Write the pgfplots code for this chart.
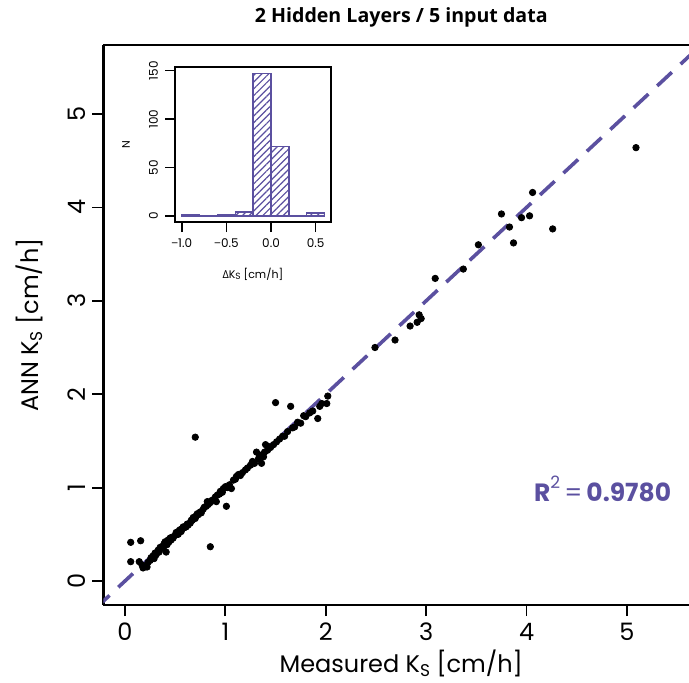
\documentclass[border=0pt]{standalone}
\usepackage{fontspec}
\setmainfont{Poppins}
\newfontfamily\titlefont{Open Sans}
\usepackage{pgfplots}
\pgfplotsset{compat=1.18}
\usetikzlibrary{patterns.meta}
\definecolor{pc}{RGB}{91,80,160}

\pgfplotstableread{
x y
0.057 0.414
0.156 0.431
0.057 0.207
0.142 0.207
0.85 0.367
0.70 1.54
0.17 0.17
0.18 0.14
0.20 0.16
0.22 0.15
0.23 0.20
0.25 0.22
0.26 0.25
0.28 0.27
0.29 0.24
0.30 0.30
0.31 0.28
0.33 0.33
0.34 0.31
0.35 0.36
0.37 0.37
0.38 0.35
0.39 0.40
0.40 0.42
0.41 0.31
0.42 0.39
0.43 0.44
0.44 0.42
0.45 0.46
0.46 0.44
0.47 0.47
0.48 0.46
0.50 0.49
0.51 0.52
0.52 0.50
0.53 0.50
0.54 0.54
0.55 0.55
0.56 0.53
0.57 0.56
0.58 0.58
0.59 0.57
0.61 0.58
0.62 0.61
0.63 0.60
0.65 0.62
0.66 0.65
0.67 0.65
0.68 0.68
0.70 0.67
0.71 0.70
0.72 0.72
0.73 0.71
0.75 0.74
0.76 0.73
0.78 0.77
0.79 0.79
0.81 0.80
0.82 0.85
0.83 0.82
0.85 0.84
0.86 0.86
0.88 0.87
0.90 0.90
0.91 0.85
0.92 0.92
0.94 0.93
0.95 0.96
0.97 0.95
0.98 0.99
1.00 1.01
1.01 0.80
1.02 1.00
1.04 1.03
1.06 0.99
1.08 1.08
1.10 1.09
1.11 1.12
1.13 1.14
1.15 1.13
1.17 1.16
1.20 1.19
1.22 1.21
1.25 1.24
1.27 1.28
1.29 1.26
1.31 1.38
1.33 1.31
1.34 1.35
1.36 1.26
1.38 1.33
1.39 1.38
1.40 1.46
1.42 1.40
1.43 1.44
1.45 1.43
1.48 1.46
1.50 1.91
1.51 1.49
1.54 1.52
1.57 1.55
1.59 1.55
1.62 1.60
1.65 1.87
1.67 1.64
1.69 1.65
1.72 1.70
1.75 1.69
1.78 1.77
1.80 1.76
1.84 1.80
1.87 1.82
1.92 1.74
1.94 1.87
1.96 1.90
2.01 1.90
2.02 1.98
2.49 2.50
2.69 2.58
2.84 2.73
2.91 2.77
2.93 2.85
2.95 2.81
3.09 3.24
3.37 3.34
3.52 3.60
3.75 3.93
3.83 3.79
3.87 3.62
3.95 3.89
4.03 3.91
4.06 4.16
4.26 3.77
5.09 4.64
}\pts

\begin{document}
\begin{tikzpicture}
\begin{axis}[
  name=main,
  scale only axis,
  width=292.75pt, height=280pt,
  xmin=-0.214, xmax=5.618, ymin=-0.257, ymax=5.739,
  axis x line=box, axis y line*=left,
  xtick pos=left, ytick pos=left,
  axis line style={line width=1.4pt, black},
  tick align=outside,
  major tick length=5.5pt,
  every tick/.style={black, line width=0.9pt},
  xtick={0,...,5}, ytick={0,...,5},
  tick label style={font=\fontsize{12}{12}\selectfont},
  /pgf/number format/assume math mode=true,
  yticklabel style={rotate=90, anchor=south},
  xlabel={Measured K\raisebox{-0.3ex}{\fontsize{8.5}{8.5}\selectfont S} [cm/h]},
  ylabel={ANN K\raisebox{-0.3ex}{\fontsize{8.5}{8.5}\selectfont S} [cm/h]},
  xlabel style={font=\fontsize{12}{12}\selectfont, at={(axis description cs:0.5,0)}, anchor=center, yshift=-29pt, xshift=2.5pt},
  ylabel style={font=\fontsize{12}{12}\selectfont, at={(axis description cs:0,0.5)}, anchor=center, yshift=37pt},
  title={2 Hidden Layers / 5 input data},
  title style={font=\titlefont\bfseries\fontsize{9.8}{9.8}\selectfont, at={(axis description cs:0.5,1)}, anchor=center, yshift=8pt, xshift=2.5pt},
]
\addplot[only marks, mark=*, mark size=1.6pt, mark options={fill=black, draw=black}] table {\pts};
\addplot[pc, line width=1.8pt, dash pattern=on 10pt off 6pt] coordinates {(-0.3,-0.3) (6,6)};
\node[anchor=east, text=pc, font=\fontsize{12.5}{12.5}\selectfont] at (axis cs:5.51,0.985)
  {\textbf{R}\raisebox{0.55em}{\fontsize{8.5}{8.5}\selectfont 2}\,=\,\textbf{0.9780}};
\end{axis}

\begin{axis}[
  at={(main.south west)}, anchor=south west, xshift=35.75pt, yshift=191.5pt,
  scale only axis,
  width=77.85pt, height=77.65pt,
  xmin=-1.075, xmax=0.668, ymin=-6.2, ymax=154.1,
  axis background/.style={fill=white},
  axis line style={line width=1.1pt, black},
  tick align=outside,
  major tick length=5pt,
  every tick/.style={black, line width=0.8pt},
  xtick pos=left, ytick pos=left,
  xtick={-1,-0.5,0,0.5},
  xticklabels={{\titlefont −}1.0,{\titlefont −}0.5,0.0,0.5},
  ytick={0,50,100,150},
  tick label style={font=\fontsize{6}{6}\selectfont},
  /pgf/number format/assume math mode=true,
  yticklabel style={rotate=90, anchor=south},
  xlabel={{\titlefont Δ}K\raisebox{-0.3ex}{\fontsize{4.5}{4.5}\selectfont S} [cm/h]},
  ylabel={N},
  xlabel style={font=\fontsize{5.5}{5.5}\selectfont, at={(axis description cs:0.5,0)}, anchor=center, yshift=-26pt},
  ylabel style={font=\fontsize{5.5}{5.5}\selectfont, at={(axis description cs:0,0.5)}, anchor=center, yshift=24.5pt},
]
\addplot[ybar interval, draw=pc, line width=0.7pt,
  pattern={Lines[angle=45, distance=2.4pt, line width=0.6pt]}, pattern color=pc]
  coordinates {(-1.0,1) (-0.8,0) (-0.6,1) (-0.4,4) (-0.2,147) (0,72) (0.2,0) (0.4,3) (0.6,3)};
\end{axis}

\pgfresetboundingbox
\path ([xshift=-51.75pt,yshift=-38.5pt]main.south west) rectangle ([yshift=22.5pt]main.north east);
\end{tikzpicture}
\end{document}
